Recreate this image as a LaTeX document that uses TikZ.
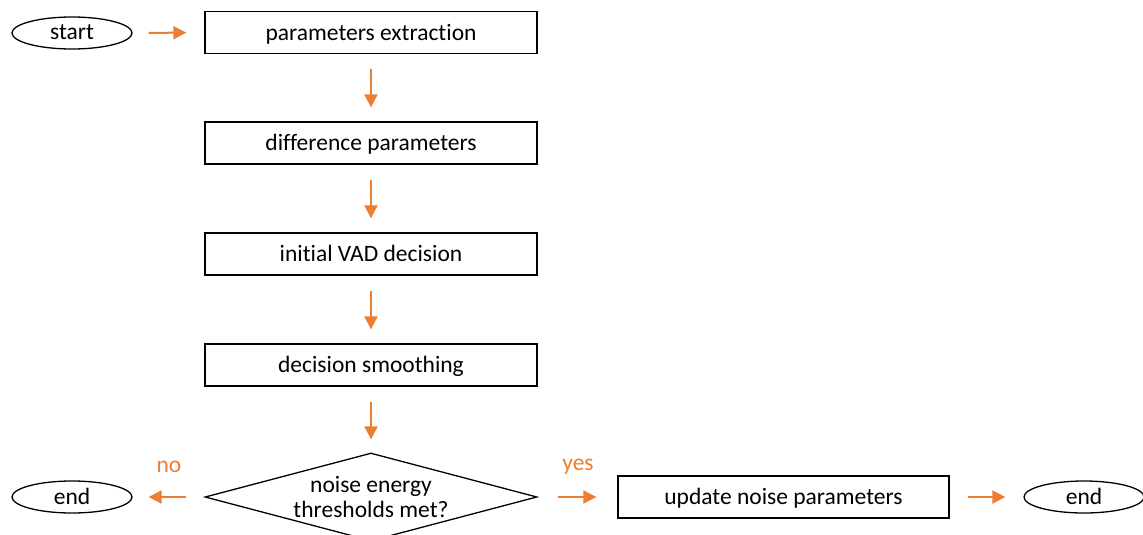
\documentclass[tikz,border=0pt]{standalone}
\usepackage{fontspec}
\setmainfont[Ligatures=CommonOff]{Carlito}
\usetikzlibrary{shapes.geometric,arrows.meta}
\definecolor{flow}{RGB}{237,125,49}
\begin{document}
\begin{tikzpicture}[x=1pt,y=-1pt,
  font=\fontsize{23.5}{25}\selectfont,
  stepbox/.style={draw,line width=1.3pt,minimum width=332pt,minimum height=42pt,inner sep=0pt,text depth=1pt},
  term/.style={draw,ellipse,line width=1.3pt,minimum width=120pt,minimum height=32pt,inner sep=0pt,text depth=1pt},
  choice/.style={draw,diamond,line width=1.3pt,aspect=3.77,minimum width=332pt,minimum height=88pt,inner sep=0pt,align=center},
  flowarrow/.style={draw=flow,line width=2pt,-{Triangle[length=13pt,width=13pt]},fill=flow},
  branch/.style={text=flow}]
\useasboundingbox (0,0) rectangle (1143,535);
\node[term] (start) at (72,33) {start};
\node[stepbox] (extract) at (371,32.5) {parameters extraction};
\node[stepbox] (diff) at (371,143) {difference parameters};
\node[stepbox] (vad) at (371,254) {initial VAD decision};
\node[stepbox] (smooth) at (371,365) {decision smoothing};
\node[choice] (check) at (371,497) {noise energy\\thresholds met?};
\node[term] (endL) at (72,497) {end};
\node[stepbox,minimum width=331pt] (update) at (783.5,497) {update noise parameters};
\node[term] (endR) at (1084,497) {end};
\node[branch] (no) at (169,467) {no};
\node[branch] (yes) at (578,467) {yes};

\path[flowarrow,shorten <=16pt,shorten >=18pt] (start.east) -- (extract.west);
\path[flowarrow,shorten <=15pt,shorten >=14pt] (extract.south) -- (diff.north);
\path[flowarrow,shorten <=15pt,shorten >=14pt] (diff.south) -- (vad.north);
\path[flowarrow,shorten <=15pt,shorten >=14pt] (vad.south) -- (smooth.north);
\path[flowarrow,shorten <=15pt,shorten >=13pt] (smooth.south) -- (check.north);
\path[flowarrow,shorten <=18pt,shorten >=16pt] (check.west) -- (endL.east);
\path[flowarrow,shorten <=20pt,shorten >=21pt] (check.east) -- (update.west);
\path[flowarrow,shorten <=18pt,shorten >=18pt] (update.east) -- (endR.west);
\end{tikzpicture}
\end{document}
